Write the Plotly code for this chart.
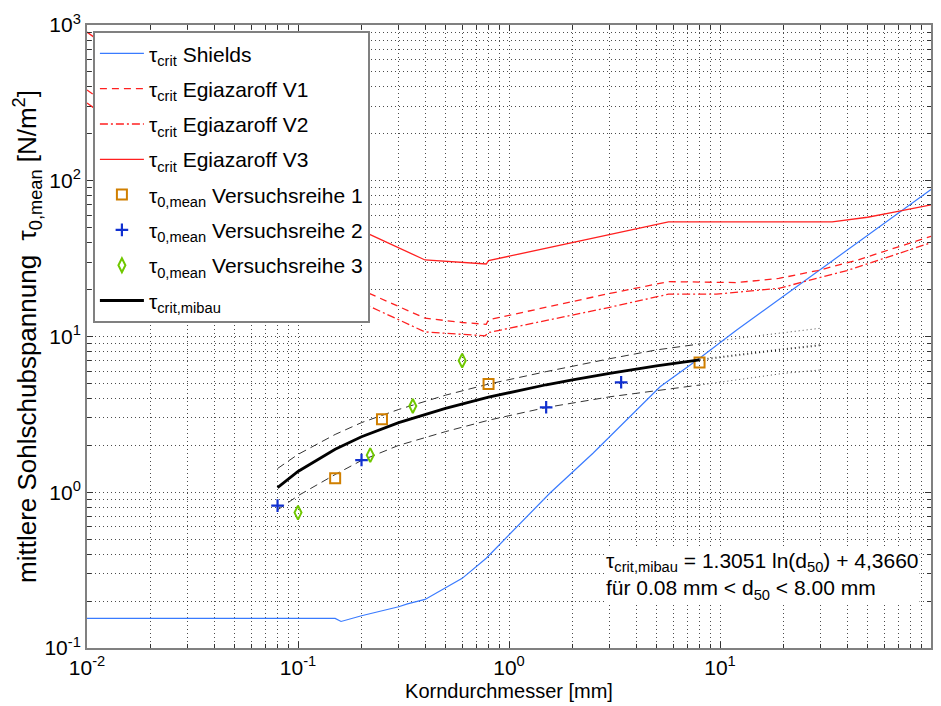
import plotly.graph_objects as go

# ---------------- data ----------------
shields_d = [0.01, 0.15, 0.16, 0.2, 0.3, 0.33, 0.4, 0.5, 0.6, 0.78, 1.05, 1.56, 2.5, 5.2, 8.0, 12.0, 100]
shields_tau = [0.155, 0.155, 0.148, 0.161, 0.184, 0.192, 0.205, 0.242, 0.28, 0.377, 0.572, 0.985, 1.78, 4.76, 7.24, 11.0, 88]

egi_v1_d = [0.01, 0.2, 0.4, 0.6, 0.78, 0.8, 3.0, 5.7, 12, 19, 29, 45, 100]
egi_v1_tau = [383, 19.9, 13.1, 12.3, 11.97, 12.8, 18.9, 22.5, 22.2, 23.6, 26.5, 31.0, 44.0]

egi_v2_d = [0.01, 0.2, 0.4, 0.68, 0.77, 0.8, 3.0, 5.7, 9.6, 19, 40, 100]
egi_v2_tau = [316, 16.5, 10.7, 10.2, 10.1, 10.6, 15.4, 18.7, 18.7, 20.4, 26.5, 40.0]

egi_v3_d = [0.01, 0.2, 0.4, 0.6, 0.78, 0.8, 2.7, 5.7, 34, 50, 66, 100]
egi_v3_tau = [900, 47.8, 31.0, 29.8, 29.2, 30.7, 43.7, 54.5, 54.5, 58.3, 62.7, 70.0]

vr1_d = [0.15, 0.25, 0.8, 8.0]
vr1_tau = [1.23, 2.94, 4.95, 6.8]

vr2_d = [0.08, 0.2, 1.5, 3.4]
vr2_tau = [0.82, 1.61, 3.51, 5.08]

vr3_d = [0.1, 0.22, 0.35, 0.6]
vr3_tau = [0.74, 1.73, 3.58, 7.0]

mibau_d = [0.08, 0.1, 0.15, 0.2, 0.3, 0.5, 0.8, 1.0, 1.5, 2.0, 3.0, 5.0, 8.0]
mibau_tau = [1.07, 1.36, 1.89, 2.27, 2.80, 3.46, 4.08, 4.37, 4.90, 5.27, 5.80, 6.47, 7.08]

upper_d = [0.08, 0.1, 0.15, 0.2, 0.3, 0.5, 0.8, 1.5, 3.0, 5.0, 8.0]
upper_tau = [1.42, 1.75, 2.35, 2.8, 3.4, 4.2, 4.95, 5.95, 7.2, 8.2, 8.95]

lower_d = [0.08, 0.1, 0.15, 0.2, 0.3, 0.5, 0.8, 1.5, 3.0, 5.0, 8.0]
lower_tau = [0.77, 0.95, 1.3, 1.6, 2.0, 2.45, 2.9, 3.5, 4.1, 4.5, 4.88]

ext_d = [8.0, 10.0, 15.0, 20.0, 30.0]
ext_mid_tau = [7.08, 7.37, 7.9, 8.28, 8.8]
ext_up_tau = [8.95, 9.4, 10.1, 10.6, 11.3]
ext_low_tau = [4.88, 5.1, 5.5, 5.8, 6.1]

x_major = [0.01, 0.1, 1, 10, 100]
x_labels = ["10<sup>-2</sup>", "10<sup>-1</sup>", "10<sup>0</sup>", "10<sup>1</sup>", "10<sup>2</sup>"]
y_major = [0.1, 1, 10, 100, 1000]
y_labels = ["10<sup>-1</sup>", "10<sup>0</sup>", "10<sup>1</sup>", "10<sup>2</sup>", "10<sup>3</sup>"]

# ---------------- figure ----------------
FONT = "Liberation Sans, Arial, sans-serif"
RED = "#FF2020"
fig = go.Figure()

def line(x, y, name, color, width=1, dash="solid", show=True, group=None):
    fig.add_trace(go.Scatter(x=x, y=y, mode="lines", name=name, showlegend=show, legendgroup=group,
                             line=dict(color=color, width=width, dash=dash)))

# helper curves (not in legend) drawn first
line(upper_d, upper_tau, "upper", "#333333", 1, "8px,5px", show=False, group="h1")
line(lower_d, lower_tau, "lower", "#333333", 1, "8px,5px", show=False, group="h2")
line(ext_d, ext_mid_tau, "ext mid", "#222222", 2, "1px,3px", show=False, group="h3")
line(ext_d, ext_up_tau, "ext up", "#444444", 1, "1px,3px", show=False, group="h4")
line(ext_d, ext_low_tau, "ext low", "#444444", 1, "1px,3px", show=False, group="h5")

line(shields_d, shields_tau, "τ<sub>crit</sub> Shields", "#3A7BFF", 1.2, group="g1")
line(egi_v1_d, egi_v1_tau, "τ<sub>crit</sub> Egiazaroff V1", RED, 1.3, "7px,5px", group="g2")
line(egi_v2_d, egi_v2_tau, "τ<sub>crit</sub> Egiazaroff V2", RED, 1.3, "8px,3px,2px,3px", group="g3")
line(egi_v3_d, egi_v3_tau, "τ<sub>crit</sub> Egiazaroff V3", RED, 1.3, group="g4")

fig.add_trace(go.Scatter(x=vr1_d, y=vr1_tau, mode="markers", name="τ<sub>0,mean</sub> Versuchsreihe 1",
                         legendgroup="g5",
                         marker=dict(symbol="square-open", size=10, color="#D07F00", line=dict(width=2))))
fig.add_trace(go.Scatter(x=vr2_d, y=vr2_tau, mode="markers", name="τ<sub>0,mean</sub> Versuchsreihe 2",
                         legendgroup="g6",
                         marker=dict(symbol="cross-thin-open", size=9, color="#1030D0",
                                     line=dict(width=2.2, color="#1030D0"))))
fig.add_trace(go.Scatter(x=vr3_d, y=vr3_tau, mode="markers", name="τ<sub>0,mean</sub> Versuchsreihe 3",
                         legendgroup="g7",
                         marker=dict(symbol="diamond-tall-open", size=10, color="#70C800", line=dict(width=2))))

line(mibau_d, mibau_tau, "τ<sub>crit,mibau</sub>", "#000000", 2.8, group="g8")

grid = dict(griddash="1px,3px", gridcolor="rgba(0,0,0,0.7)", gridwidth=1)
minor_x = [k * 10.0 ** e for e in range(-2, 2) for k in range(2, 10)]
minor_y = [k * 10.0 ** e for e in range(-1, 3) for k in range(2, 10)]

fig.update_xaxes(type="log", range=[-2, 2], tickmode="array", tickvals=x_major, ticktext=x_labels,
                 showline=True, linecolor="#808080", linewidth=2, mirror="allticks", automargin=False,
                 ticks="inside", ticklen=6, tickcolor="#333", showgrid=True, **grid,
                 minor=dict(tickmode="array", tickvals=minor_x, ticks="inside", ticklen=4,
                            tickcolor="#333", showgrid=True, **grid),
                 tickfont=dict(size=21, color="black", family=FONT), zeroline=False,
                 title=dict(text="Korndurchmesser [mm]", font=dict(size=20, color="black", family=FONT), standoff=6))
fig.update_yaxes(type="log", range=[-1, 3], tickmode="array", tickvals=y_major, ticktext=y_labels,
                 showline=True, linecolor="#808080", linewidth=2, mirror="allticks", automargin=False,
                 ticks="inside", ticklen=6, tickcolor="#333", showgrid=True, **grid,
                 minor=dict(tickmode="array", tickvals=minor_y, ticks="inside", ticklen=4,
                            tickcolor="#333", showgrid=True, **grid),
                 tickfont=dict(size=21, color="black", family=FONT), zeroline=False,
                 title=dict(text="mittlere Sohlschubspannung &nbsp;τ<sub>0,mean</sub> [N/m<sup>2</sup>]",
                            font=dict(size=26, color="black", family=FONT), standoff=0))

fig.add_annotation(xref="paper", yref="paper", x=0.612, y=0.115, xanchor="left", yanchor="middle",
                   align="left", showarrow=False, bgcolor="white",
                   text="τ<sub>crit,mibau</sub> = 1.3051 ln(d<sub>50</sub>) + 4,3660<br>für 0.08 mm &lt; d<sub>50</sub> &lt; 8.00 mm",
                   font=dict(size=21, color="black", family=FONT))

# the page body has an 8px default margin, so the figure is 8px smaller and margins shifted
fig.update_layout(
    width=933, height=698,
    margin=dict(l=79, r=10, t=17, b=58),
    paper_bgcolor="white", plot_bgcolor="white",
    font=dict(family=FONT, color="black"),
    legend=dict(x=0.007, y=0.99, xanchor="left", yanchor="top", bgcolor="white",
                bordercolor="#808080", borderwidth=2, tracegroupgap=5, itemwidth=44,
                font=dict(size=21, color="black", family=FONT)),
)

fig.write_html("out.html")
